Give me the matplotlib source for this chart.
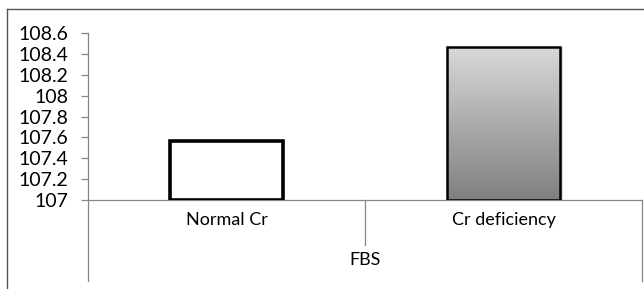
import matplotlib
matplotlib.use("Agg")
import matplotlib.pyplot as plt
import numpy as np
from matplotlib.lines import Line2D

categories = ["Normal Cr", "Cr deficiency"]
values = [107.57, 108.47]
group_label = "FBS"
yticks = [107, 107.2, 107.4, 107.6, 107.8, 108, 108.2, 108.4, 108.6]
ytick_labels = ["107", "107.2", "107.4", "107.6", "107.8", "108", "108.2", "108.4", "108.6"]

plt.rcParams['font.family'] = ['Lato', 'DejaVu Sans']

W, H = 644, 289
fig = plt.figure(figsize=(W / 100, H / 100), dpi=100)

def fx(px):
    return px / W

def fy(py):
    return 1 - py / H

ax_l, ax_r, ax_t, ax_b = 88, 642, 33, 200
ax = fig.add_axes([fx(ax_l), fy(ax_b), fx(ax_r) - fx(ax_l), fy(ax_t) - fy(ax_b)])

x = np.arange(len(categories))
width = 0.41

bars = ax.bar(x, np.array(values) - 107, bottom=107, width=width,
              color=["white", "none"], edgecolor="black", linewidth=[2.6, 1.8], zorder=3)

# gradient for second bar
b = bars[1]
x0, y0 = b.get_x(), b.get_y()
w, h = b.get_width(), b.get_height()
grad = np.linspace(0.85, 0.50, 256).reshape(-1, 1)
img = ax.imshow(grad, cmap="gray", vmin=0, vmax=1, aspect="auto",
                extent=[x0, x0 + w, y0, y0 + h], origin="upper", zorder=2)
img.set_clip_path(b)
# subtle shadow
ax.bar(x[1] + 0.006, values[1] - 107, bottom=107 - 0.005, width=width + 0.006,
       color="#d9d9d9", edgecolor="none", zorder=1)
ax.set_xlim(-0.5, len(categories) - 0.5)
ax.set_ylim(107, 108.6)

fs = 13
ax.set_yticks(yticks)
ax.set_yticklabels(ytick_labels, fontsize=14)
ax.set_xticks([])
for s in ["top", "right"]:
    ax.spines[s].set_visible(False)
for s in ["left", "bottom"]:
    ax.spines[s].set_color("#868686")
    ax.spines[s].set_linewidth(0.9)
ax.tick_params(axis="y", direction="out", length=5, color="#868686", width=0.9, pad=9)

gray = "#868686"
# extended category axis lines
fig.add_artist(Line2D([fx(ax_l), fx(ax_l)], [fy(ax_b), fy(281)], color=gray, lw=0.9))
fig.add_artist(Line2D([fx(ax_r), fx(ax_r)], [fy(ax_b), fy(281)], color=gray, lw=0.9))
mid = (ax_l + ax_r) / 2
fig.add_artist(Line2D([fx(mid), fx(mid)], [fy(ax_b), fy(245)], color=gray, lw=0.9))

# category labels
for i, c in enumerate(categories):
    fig.text(fx(ax_l + (ax_r - ax_l) * (i + 0.5) / len(categories)), fy(220), c,
             ha="center", va="center", fontsize=fs)
fig.text(fx(mid), fy(260), group_label, ha="center", va="center", fontsize=fs)

# outer frame (left and top)
fig.add_artist(Line2D([fx(7), fx(7)], [fy(9), 0], color="#555555", lw=1.0))
fig.add_artist(Line2D([fx(7), 1], [fy(9), fy(9)], color="#555555", lw=1.0))

fig.savefig("out.png", dpi=100)
